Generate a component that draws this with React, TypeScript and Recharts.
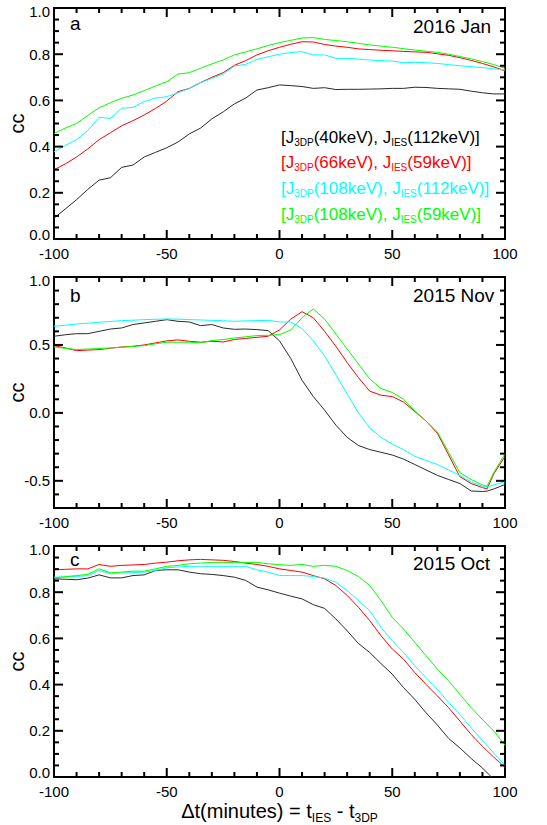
import React from 'react';
import { LineChart, Line, XAxis, YAxis, ReferenceArea } from 'recharts';

// time lag axis (minutes) shared by the Jan and Oct events
const minutes = [
  -100, -95, -90, -85, -80, -75, -70, -65, -60, -55, -50, -45, -40, -35, -30, -25, -20, -15, -10, -5,
  0, 5, 10, 15, 20, 25, 30, 35, 40, 45, 50, 55, 60, 65, 70, 75, 80, 85, 90, 95, 100,
];
// Nov event has an extra sample at the minimum near 92 min
const minutesNov = [
  -100, -95, -90, -85, -80, -75, -70, -65, -60, -55, -50, -45, -40, -35, -30, -25, -20, -15, -10, -5,
  0, 5, 10, 15, 20, 25, 30, 35, 40, 45, 50, 55, 60, 65, 70, 75, 80, 85, 90, 92, 95, 100,
];

// 2016 Jan
const janBlack = [0.09, 0.13, 0.17, 0.215, 0.255, 0.265, 0.31, 0.32, 0.355, 0.375, 0.395, 0.42, 0.455, 0.48, 0.52, 0.55, 0.585, 0.61, 0.645, 0.655, 0.667, 0.664, 0.66, 0.652, 0.655, 0.647, 0.648, 0.648, 0.649, 0.65, 0.652, 0.652, 0.657, 0.656, 0.652, 0.65, 0.648, 0.64, 0.633, 0.628, 0.628];
const janRed = [0.3, 0.325, 0.355, 0.39, 0.43, 0.46, 0.49, 0.512, 0.537, 0.565, 0.597, 0.638, 0.652, 0.677, 0.7, 0.72, 0.752, 0.772, 0.797, 0.815, 0.83, 0.843, 0.854, 0.853, 0.842, 0.835, 0.83, 0.823, 0.82, 0.817, 0.815, 0.812, 0.81, 0.808, 0.802, 0.795, 0.785, 0.773, 0.76, 0.745, 0.728];
const janCyan = [0.378, 0.405, 0.43, 0.47, 0.527, 0.522, 0.566, 0.57, 0.595, 0.61, 0.616, 0.633, 0.652, 0.677, 0.695, 0.714, 0.749, 0.756, 0.778, 0.789, 0.8, 0.807, 0.811, 0.797, 0.797, 0.782, 0.782, 0.779, 0.775, 0.772, 0.77, 0.763, 0.765, 0.763, 0.76, 0.755, 0.75, 0.746, 0.742, 0.737, 0.732];
const janGreen = [0.457, 0.48, 0.5, 0.535, 0.568, 0.59, 0.609, 0.623, 0.642, 0.662, 0.681, 0.714, 0.72, 0.739, 0.758, 0.775, 0.797, 0.81, 0.823, 0.838, 0.85, 0.86, 0.87, 0.872, 0.864, 0.859, 0.854, 0.847, 0.84, 0.835, 0.83, 0.824, 0.818, 0.813, 0.808, 0.8, 0.79, 0.78, 0.768, 0.755, 0.739];

// 2015 Nov
const novBlack = [0.564, 0.575, 0.583, 0.583, 0.6, 0.617, 0.625, 0.65, 0.662, 0.674, 0.686, 0.674, 0.669, 0.642, 0.65, 0.625, 0.615, 0.617, 0.613, 0.605, 0.53, 0.4, 0.24, 0.12, 0.02, -0.09, -0.18, -0.24, -0.27, -0.29, -0.31, -0.34, -0.38, -0.42, -0.46, -0.49, -0.52, -0.575, -0.578, -0.576, -0.56, -0.527];
const novRed = [0.495, 0.478, 0.458, 0.462, 0.466, 0.476, 0.485, 0.49, 0.5, 0.515, 0.53, 0.537, 0.527, 0.52, 0.527, 0.522, 0.54, 0.548, 0.556, 0.564, 0.61, 0.69, 0.745, 0.7, 0.6, 0.49, 0.37, 0.26, 0.16, 0.13, 0.12, 0.08, 0.01, -0.06, -0.15, -0.31, -0.47, -0.52, -0.55, -0.56, -0.45, -0.32];
const novCyan = [0.637, 0.645, 0.654, 0.66, 0.667, 0.673, 0.679, 0.682, 0.686, 0.689, 0.691, 0.69, 0.686, 0.684, 0.681, 0.678, 0.674, 0.677, 0.679, 0.681, 0.669, 0.669, 0.62, 0.53, 0.42, 0.28, 0.14, 0.0, -0.11, -0.18, -0.23, -0.27, -0.32, -0.35, -0.38, -0.42, -0.46, -0.51, -0.54, -0.545, -0.53, -0.507];
const novGreen = [0.485, 0.475, 0.466, 0.47, 0.473, 0.478, 0.483, 0.489, 0.495, 0.508, 0.52, 0.52, 0.52, 0.515, 0.532, 0.54, 0.551, 0.56, 0.569, 0.571, 0.576, 0.61, 0.7, 0.765, 0.69, 0.58, 0.47, 0.36, 0.25, 0.18, 0.15, 0.1, 0.015, -0.06, -0.14, -0.29, -0.44, -0.49, -0.53, -0.54, -0.44, -0.3];

// 2015 Oct
const octBlack = [0.858, 0.856, 0.854, 0.861, 0.875, 0.862, 0.862, 0.872, 0.875, 0.894, 0.897, 0.897, 0.887, 0.88, 0.877, 0.872, 0.865, 0.851, 0.822, 0.81, 0.796, 0.783, 0.771, 0.746, 0.73, 0.684, 0.633, 0.578, 0.539, 0.491, 0.445, 0.387, 0.336, 0.278, 0.225, 0.167, 0.126, 0.08, 0.039, -0.01, -0.05];
const octRed = [0.897, 0.899, 0.901, 0.901, 0.92, 0.912, 0.916, 0.918, 0.92, 0.926, 0.93, 0.936, 0.94, 0.942, 0.94, 0.938, 0.933, 0.926, 0.92, 0.912, 0.901, 0.894, 0.887, 0.872, 0.858, 0.829, 0.786, 0.735, 0.677, 0.612, 0.554, 0.51, 0.452, 0.401, 0.351, 0.3, 0.242, 0.184, 0.133, 0.086, 0.042];
const octCyan = [0.865, 0.866, 0.868, 0.872, 0.894, 0.88, 0.883, 0.885, 0.887, 0.894, 0.906, 0.909, 0.912, 0.912, 0.912, 0.912, 0.912, 0.912, 0.897, 0.887, 0.872, 0.872, 0.872, 0.868, 0.861, 0.843, 0.807, 0.764, 0.72, 0.648, 0.59, 0.539, 0.481, 0.43, 0.38, 0.322, 0.271, 0.213, 0.158, 0.104, 0.051];
const octGreen = [0.862, 0.867, 0.872, 0.877, 0.901, 0.884, 0.887, 0.891, 0.891, 0.901, 0.912, 0.916, 0.923, 0.926, 0.929, 0.929, 0.929, 0.929, 0.929, 0.923, 0.919, 0.916, 0.92, 0.912, 0.916, 0.912, 0.894, 0.868, 0.829, 0.764, 0.691, 0.641, 0.583, 0.525, 0.467, 0.416, 0.358, 0.3, 0.249, 0.199, 0.138];

// channel pairs: 3DP energy, IES energy, colour
const seriesKeys = ['k', 'r', 'c', 'g'];
const energies3dp = ['40keV', '66keV', '108keV', '108keV'];
const energiesIes = ['112keV', '59keV', '112keV', '59keV'];
const lineColors = ['#2a2a2a', '#ff0000', '#00ffff', '#00ff00'];
const textColors = ['#000000', '#ff0000', '#00ffff', '#00ff00'];

const xTicks = [-100, -90, -80, -70, -60, -50, -40, -30, -20, -10, 0, 10, 20, 30, 40, 50, 60, 70, 80, 90, 100];
const xMajor = [-100, -50, 0, 50, 100];
const unitTicks = [0, 0.05, 0.1, 0.15, 0.2, 0.25, 0.3, 0.35, 0.4, 0.45, 0.5, 0.55, 0.6, 0.65, 0.7, 0.75, 0.8, 0.85, 0.9, 0.95, 1.0];
const unitMajor = [0, 0.2, 0.4, 0.6, 0.8, 1.0];
const novTicks = [-0.7, -0.6, -0.5, -0.4, -0.3, -0.2, -0.1, 0, 0.1, 0.2, 0.3, 0.4, 0.5, 0.6, 0.7, 0.8, 0.9, 1.0];
const novMajor = [-0.5, 0, 0.5, 1.0];

const FONT = '"Liberation Sans", Arial, Helvetica, sans-serif';
const PLOT_W = 451;
const PLOT_H = 231;
const TICK_MAJOR = 9;
const TICK_MINOR = 5;

const isIn = (list: number[], v: number) => list.some((m) => Math.abs(m - v) < 1e-6);

const buildRows = (t: number[], cols: number[][]) =>
  t.map((m, i) => {
    const row: Record<string, number> = { t: m };
    seriesKeys.forEach((k, j) => {
      row[k] = cols[j][i];
    });
    return row;
  });

// ticks point inward on both bottom and top edges of the frame
const XTick = (props: any) => {
  const { x, y, payload } = props;
  const v = payload.value;
  const major = isIn(xMajor, v);
  const len = major ? TICK_MAJOR : TICK_MINOR;
  return (
    <g>
      <line x1={x} x2={x} y1={y} y2={y - len} stroke="#000" strokeWidth={2} />
      <line x1={x} x2={x} y1={y - PLOT_H} y2={y - PLOT_H + len} stroke="#000" strokeWidth={2} />
      {major && (
        <text x={x} y={y + 19.5} textAnchor="middle" fontSize={15} fontFamily={FONT} fill="#000">
          {v}
        </text>
      )}
    </g>
  );
};

// left + mirrored right ticks; end labels are nudged inside the frame
const makeYTick = (majors: number[], domain: number[]) => (props: any) => {
  const { x, y, payload } = props;
  const v = payload.value;
  const major = isIn(majors, v);
  const len = major ? TICK_MAJOR : TICK_MINOR;
  let shift = 0;
  if (Math.abs(v - domain[1]) < 1e-6) shift = 4;
  if (Math.abs(v - domain[0]) < 1e-6) shift = -4;
  return (
    <g>
      <line x1={x} x2={x + len} y1={y} y2={y} stroke="#000" strokeWidth={2} />
      <line x1={x + PLOT_W} x2={x + PLOT_W - len} y1={y} y2={y} stroke="#000" strokeWidth={2} />
      {major && (
        <text x={x - 4} y={y + 5.3 + shift} textAnchor="end" fontSize={15} fontFamily={FONT} fill="#000">
          {v.toFixed(1)}
        </text>
      )}
    </g>
  );
};

interface PanelProps {
  top: number;
  height: number;
  xAxisHeight: number;
  rows: Record<string, number>[];
  domain: number[];
  ticks: number[];
  majors: number[];
  letter: string;
  letterY: number;
  date: string;
  dateY: number;
  children?: React.ReactNode;
}

const Panel: React.FC<PanelProps> = ({ top, height, xAxisHeight, rows, domain, ticks, majors, letter, letterY, date, dateY, children }) => (
  <div style={{ position: 'absolute', left: 0, top, width: 547, height }}>
    <LineChart width={547} height={height} data={rows} margin={{ top: 8, right: 42, bottom: 0, left: 0 }}>
      <XAxis
        dataKey="t"
        type="number"
        domain={[-100, 100]}
        allowDataOverflow
        ticks={xTicks}
        interval={0}
        tickSize={0}
        tickMargin={0}
        axisLine={false}
        tickLine={false}
        height={xAxisHeight}
        tick={XTick}
      />
      <YAxis
        type="number"
        domain={domain}
        allowDataOverflow
        ticks={ticks}
        interval={0}
        tickSize={0}
        tickMargin={0}
        axisLine={false}
        tickLine={false}
        width={54}
        tick={makeYTick(majors, domain)}
      />
      {seriesKeys.map((k, i) => (
        <Line
          key={k}
          dataKey={k}
          type="linear"
          stroke={lineColors[i]}
          strokeWidth={1}
          dot={false}
          isAnimationActive={false}
        />
      ))}
      <ReferenceArea x1={-100} x2={100} y1={domain[0]} y2={domain[1]} fill="none" fillOpacity={0} stroke="#000" strokeWidth={2} />
    </LineChart>
    <svg width={547} height={height} style={{ position: 'absolute', left: 0, top: 0, pointerEvents: 'none' }}>
      <text
        x={24}
        y={8 + PLOT_H / 2}
        transform={`rotate(-90 24 ${8 + PLOT_H / 2})`}
        textAnchor="middle"
        fontSize={20}
        fontFamily={FONT}
        fill="#000"
      >
        cc
      </text>
      <text x={70} y={letterY} fontSize={19} fontFamily={FONT} fill="#000">
        {letter}
      </text>
      <text x={413} y={dateY} fontSize={19} fontFamily={FONT} fill="#000">
        {date}
      </text>
      {children}
    </svg>
  </div>
);

const legendBaselines = [142.5, 168.3, 194.2, 220];

const PairLegend = () => (
  <g fontFamily={FONT} fontSize={17}>
    {seriesKeys.map((k, i) => (
      <text key={k} x={281} y={legendBaselines[i]} fill={textColors[i]} xmlSpace="preserve">
        <tspan>[J</tspan>
        <tspan fontSize={10} dy={3}>3DP</tspan>
        <tspan dy={-3}>({energies3dp[i]}), J</tspan>
        <tspan fontSize={10} dy={3}>IES</tspan>
        <tspan dy={-3}>({energiesIes[i]})]</tspan>
      </text>
    ))}
  </g>
);

export default function App() {
  const janRows = buildRows(minutes, [janBlack, janRed, janCyan, janGreen]);
  const novRows = buildRows(minutesNov, [novBlack, novRed, novCyan, novGreen]);
  const octRows = buildRows(minutes, [octBlack, octRed, octCyan, octGreen]);

  return (
    <div style={{ position: 'absolute', left: 0, top: 0, width: 547, height: 825, background: '#fff', fontFamily: FONT }}>
      <Panel top={0} height={269} xAxisHeight={30} rows={janRows} domain={[0, 1]} ticks={unitTicks} majors={unitMajor}
        letter="a" letterY={29.5} date="2016 Jan" dateY={32.7}>
        <PairLegend />
      </Panel>
      <Panel top={269} height={269} xAxisHeight={30} rows={novRows} domain={[-0.7, 1]} ticks={novTicks} majors={novMajor}
        letter="b" letterY={32.7} date="2015 Nov" dateY={32.7} />
      <Panel top={538} height={287} xAxisHeight={48} rows={octRows} domain={[0, 1]} ticks={unitTicks} majors={unitMajor}
        letter="c" letterY={28} date="2015 Oct" dateY={32}>
        <text x={279.5} y={280} textAnchor="middle" fontSize={20} fontFamily={FONT} fill="#000" xmlSpace="preserve">
          <tspan>Δt(minutes) = t</tspan>
          <tspan fontSize={12} dy={4}>IES</tspan>
          <tspan dy={-4}> - t</tspan>
          <tspan fontSize={12} dy={4}>3DP</tspan>
        </text>
      </Panel>
    </div>
  );
}
